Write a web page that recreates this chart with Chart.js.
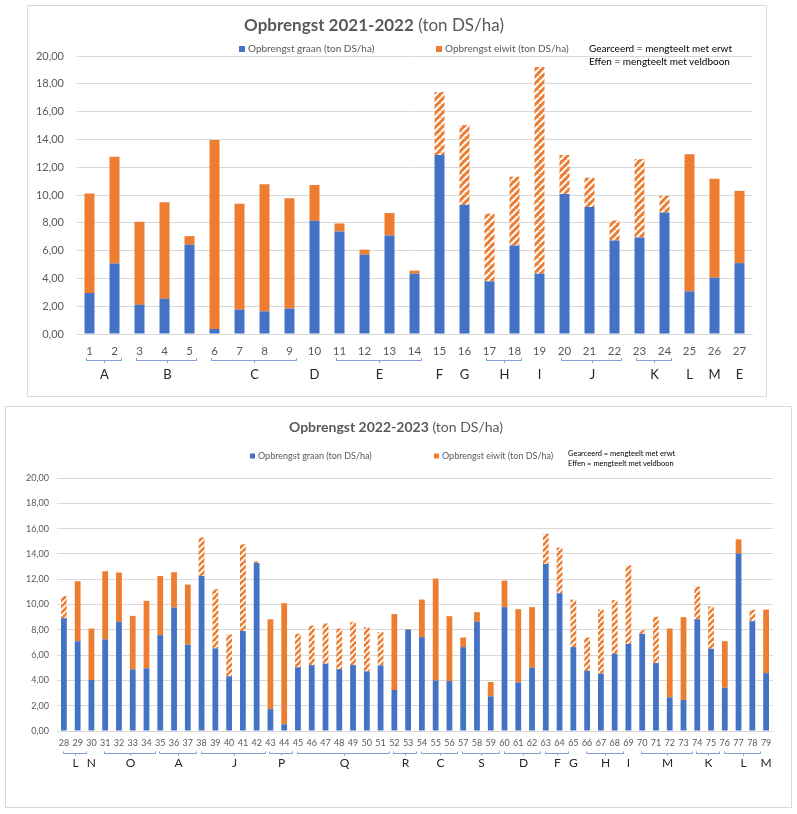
<!DOCTYPE html>
<html>
<head>
<meta charset="utf-8">
<script src="https://cdn.jsdelivr.net/npm/chart.js@4.4.1/dist/chart.umd.min.js"></script>
<style>
  body { margin: 0; width: 797px; height: 814px; position: relative; overflow: hidden; background: #fff; font-family: Lato, sans-serif; }
  .kader { position: absolute; border: 1px solid #d9d9d9; box-sizing: border-box; }
  #kader1 { left: 27px; top: 5px; width: 740px; height: 392px; }
  #kader2 { left: 5px; top: 406px; width: 787px; height: 402px; }
  .kader canvas { position: absolute; left: 0; top: 0; }
  .titel { position: absolute; color: #595959; white-space: nowrap; transform: translateX(-50%); }
  .titel b { font-weight: 700; }
  .noot { position: absolute; color: #000; white-space: nowrap; }
  #titel1 { left: 374px; top: 15px; font-size: 17px; line-height: 20px; }
  #titel2 { left: 396px; top: 419px; font-size: 14px; line-height: 16px; }
  #noot1 { left: 589px; top: 42px; font-size: 10px; line-height: 13px; }
  #noot2 { left: 568px; top: 449px; font-size: 7.5px; line-height: 10px; }
</style>
</head>
<body>
<div class="kader" id="kader1"><canvas id="grafiek1" width="738" height="390"></canvas></div>
<div class="kader" id="kader2"><canvas id="grafiek2" width="785" height="400"></canvas></div>
<div class="titel" id="titel1"><b>Opbrengst 2021-2022</b> (ton DS/ha)</div>
<div class="titel" id="titel2"><b>Opbrengst 2022-2023</b> (ton DS/ha)</div>
<div class="noot" id="noot1">Gearceerd = mengteelt met erwt<br>Effen = mengteelt met veldboon</div>
<div class="noot" id="noot2">Gearceerd = mengteelt met erwt<br>Effen = mengteelt met veldboon</div>

<script>
// --- 2021-2022 ---
const nummers1 = ['1', '2', '3', '4', '5', '6', '7', '8', '9', '10', '11', '12', '13', '14',
  '15', '16', '17', '18', '19', '20', '21', '22', '23', '24', '25', '26', '27'];
const graan1 = [2.95, 5.07, 2.10, 2.54, 6.42, 0.36, 1.75, 1.63, 1.83, 8.14, 7.38, 5.71, 7.09, 4.34,
  12.88, 9.30, 3.79, 6.37, 4.34, 10.08, 9.13, 6.72, 6.95, 8.74, 3.07, 4.05, 5.10];
const eiwit1 = [7.15, 7.68, 5.97, 6.93, 0.62, 13.59, 7.62, 9.15, 7.93, 2.58, 0.57, 0.36, 1.61, 0.22,
  4.52, 5.73, 4.87, 4.95, 14.86, 2.80, 2.12, 1.45, 5.63, 1.20, 9.86, 7.12, 5.20];
// proefvelden met erwt (gearceerd)
const erwt1 = [15, 16, 17, 18, 19, 20, 21, 22, 23, 24];
const groepen1 = [['A', 1, 2], ['B', 3, 5], ['C', 6, 9], ['D', 10, 10], ['E', 11, 14], ['F', 15, 15],
  ['G', 16, 16], ['H', 17, 18], ['I', 19, 19], ['J', 20, 22], ['K', 23, 24], ['L', 25, 25],
  ['M', 26, 26], ['E', 27, 27]];

// --- 2022-2023 ---
const nummers2 = ['28', '29', '30', '31', '32', '33', '34', '35', '36', '37', '38', '39', '40',
  '41', '42', '43', '44', '45', '46', '47', '48', '49', '50', '51', '52', '53', '54', '55', '56',
  '57', '58', '59', '60', '61', '62', '63', '64', '65', '66', '67', '68', '69', '70', '71', '72',
  '73', '74', '75', '76', '77', '78', '79'];
const graan2 = [8.92, 7.10, 4.03, 7.24, 8.63, 4.87, 4.95, 7.58, 9.76, 6.82, 12.26, 6.53, 4.32,
  7.90, 13.29, 1.73, 0.53, 5.03, 5.21, 5.32, 4.89, 5.21, 4.71, 5.18, 3.24, 8.00, 7.42, 4.00, 3.95,
  6.63, 8.63, 2.74, 9.79, 3.84, 5.00, 13.21, 10.89, 6.63, 4.76, 4.53, 6.10, 6.89, 7.68, 5.37, 2.66,
  2.45, 8.84, 6.50, 3.42, 14.03, 8.68, 4.58];
const eiwit2 = [1.74, 4.74, 4.07, 5.39, 3.90, 4.23, 5.34, 4.68, 2.79, 4.76, 3.04, 4.68, 3.31,
  6.86, 0.13, 7.10, 9.57, 2.65, 3.13, 3.18, 3.21, 3.39, 3.50, 2.64, 6.00, 0.05, 2.97, 8.05, 5.13,
  0.76, 0.76, 1.13, 2.10, 5.79, 4.79, 2.39, 3.61, 3.76, 2.63, 5.07, 4.24, 6.21, 0.29, 3.66, 5.44,
  6.55, 2.58, 3.34, 3.68, 1.12, 0.90, 5.02];
const erwt2 = [28, 38, 39, 40, 41, 42, 45, 46, 47, 48, 49, 50, 51, 63, 64, 65, 66, 67, 68, 69,
  70, 71, 74, 75, 78];
const groepen2 = [['L', 28, 29], ['N', 30, 30], ['O', 31, 34], ['A', 35, 37], ['J', 38, 42],
  ['P', 43, 44], ['Q', 45, 51], ['R', 52, 53], ['C', 54, 56], ['S', 57, 59], ['D', 60, 62],
  ['F', 63, 64], ['G', 65, 65], ['H', 66, 68], ['I', 69, 69], ['M', 70, 73], ['K', 74, 75],
  ['L', 76, 78], ['M', 79, 79]];

const BLAUW = '#4472c4';
const ORANJE = '#ed7d31';
const GRIJS = '#595959';
const LIJN = '#d9d9d9';
const LETTERTYPE = 'Lato, sans-serif';

function maakArcering(ctx, s) {
  const c = document.createElement('canvas');
  c.width = s;
  c.height = s;
  const g = c.getContext('2d');
  g.fillStyle = ORANJE;
  g.fillRect(0, 0, s, s);
  g.strokeStyle = '#fff';
  g.lineWidth = s * 0.3;
  g.beginPath();
  [-s, 0, s].forEach((o) => { g.moveTo(o, s); g.lineTo(o + s, 0); });
  g.stroke();
  return ctx.createPattern(c, 'repeat');
}

// eigen legenda op vaste plek
const legendeRij = {
  id: 'legendeRij',
  afterDraw(chart, args, o) {
    const ctx = chart.ctx;
    ctx.save();
    ctx.font = o.font;
    ctx.textBaseline = 'middle';
    chart.data.datasets.forEach((ds, i) => {
      const x = o.x[i];
      ctx.fillStyle = ds.legendaKleur;
      ctx.fillRect(x, o.y - o.box / 2, o.box, o.box);
      ctx.fillStyle = GRIJS;
      ctx.fillText(ds.label, x + o.box + o.tussen, o.y);
    });
    ctx.restore();
  },
};

// accolades + letters onder de x-as
const groepHaken = {
  id: 'groepHaken',
  afterDraw(chart, args, o) {
    const sx = chart.scales.x;
    const onder = chart.chartArea.bottom;
    const labels = chart.data.labels;
    const ctx = chart.ctx;
    const yLijn = Math.round(onder + o.lijn) + 0.5;
    ctx.save();
    ctx.strokeStyle = '#7f9fd6';
    ctx.lineWidth = 1;
    ctx.font = o.font;
    ctx.fillStyle = '#262626';
    ctx.textAlign = 'center';
    ctx.textBaseline = 'middle';
    o.groepen.forEach(([letter, van, tot]) => {
      const x1 = sx.getPixelForValue(labels.indexOf(String(van)));
      const x2 = sx.getPixelForValue(labels.indexOf(String(tot)));
      let midden = x1;
      if (van !== tot) {
        const a = Math.round(x1 - o.links) + 0.5;
        const b = Math.round(x2 + o.rechts) + 0.5;
        midden = Math.round((a + b) / 2) + 0.5;
        ctx.beginPath();
        ctx.moveTo(a, yLijn - o.haak);
        ctx.lineTo(a, yLijn);
        ctx.lineTo(b, yLijn);
        ctx.lineTo(b, yLijn - o.haak);
        ctx.moveTo(midden, yLijn);
        ctx.lineTo(midden, yLijn + o.haak);
        ctx.stroke();
      }
      ctx.fillText(letter, midden, onder + o.letter);
    });
    ctx.restore();
  },
};

function maakGrafiek(id, nummers, graan, eiwit, erwt, groepen, opt) {
  const canvas = document.getElementById(id);
  const arcering = maakArcering(canvas.getContext('2d'), opt.tegel);
  const kleurEiwit = nummers.map((n) => (erwt.includes(Number(n)) ? arcering : ORANJE));

  return new Chart(canvas, {
    type: 'bar',
    data: {
      labels: nummers,
      datasets: [
        { label: 'Opbrengst graan (ton DS/ha)', data: graan, backgroundColor: BLAUW, legendaKleur: BLAUW },
        { label: 'Opbrengst eiwit (ton DS/ha)', data: eiwit, backgroundColor: kleurEiwit, legendaKleur: ORANJE },
      ],
    },
    options: {
      responsive: false,
      animation: false,
      devicePixelRatio: 1,
      layout: { padding: opt.padding },
      datasets: { bar: { categoryPercentage: 1, barPercentage: opt.balk, borderWidth: 0 } },
      plugins: {
        legend: { display: false },
        tooltip: { enabled: false },
        legendeRij: opt.legenda,
        groepHaken: { groepen, ...opt.haken },
      },
      scales: {
        x: {
          stacked: true,
          grid: { display: false, drawTicks: false },
          border: { color: LIJN },
          ticks: { color: GRIJS, font: { family: LETTERTYPE, size: opt.xFont }, padding: opt.xPad, maxRotation: 0, autoSkip: false },
          afterFit: (s) => { s.height = opt.xHoogte; },
        },
        y: {
          stacked: true,
          min: 0,
          max: 20,
          grid: { color: LIJN, drawTicks: false },
          border: { display: false },
          ticks: {
            stepSize: 2,
            color: GRIJS,
            font: { family: LETTERTYPE, size: opt.yFont },
            padding: opt.yPad,
            callback: (v) => v.toFixed(2).replace('.', ','),
          },
          afterFit: (s) => { s.width = opt.yBreedte; },
        },
      },
    },
    plugins: [legendeRij, groepHaken],
  });
}

maakGrafiek('grafiek1', nummers1, graan1, eiwit1, erwt1, groepen1, {
  tegel: 7,
  balk: 0.4,
  padding: { top: 50, right: 14, bottom: 0, left: 0 },
  yBreedte: 49,
  xHoogte: 62,
  xFont: 11.5,
  yFont: 11,
  xPad: 10,
  yPad: 13,
  legenda: { x: [211, 408], y: 43, box: 6, tussen: 3, font: '10px ' + LETTERTYPE },
  haken: { lijn: 26, haak: 2.5, links: 4, rechts: 6, letter: 41, font: '13px ' + LETTERTYPE },
});

maakGrafiek('grafiek2', nummers2, graan2, eiwit2, erwt2, groepen2, {
  tegel: 6,
  balk: 0.42,
  padding: { top: 71, right: 18, bottom: 0, left: 0 },
  yBreedte: 51,
  xHoogte: 76,
  xFont: 9,
  yFont: 9,
  xPad: 7,
  yPad: 8,
  legenda: { x: [244, 428], y: 49, box: 5, tussen: 3, font: '9px ' + LETTERTYPE },
  haken: { lijn: 21.5, haak: 2, links: 1, rechts: 8, letter: 32, font: '12px ' + LETTERTYPE },
});
</script>
</body>
</html>
